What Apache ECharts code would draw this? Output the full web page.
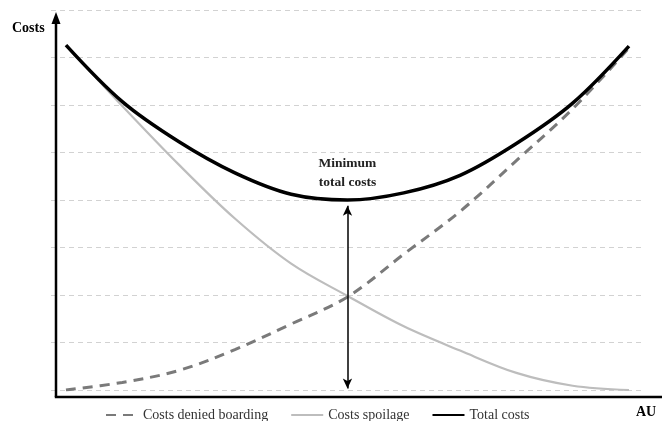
<!DOCTYPE html>
<html>
<head>
<meta charset="utf-8">
<script src="https://cdn.jsdelivr.net/npm/echarts@6/dist/echarts.min.js"></script>
<style>html,body{margin:0;padding:0;background:#fff}#c{width:662px;height:421px}</style>
</head>
<body>
<div id="c"></div>
<script>
const xValues = [0, 1, 2, 3, 4, 5, 6, 7, 8, 9, 10];
const deniedBoarding = [0.0, 0.16, 0.41, 0.85, 1.39, 1.96, 2.86, 3.76, 4.83, 5.92, 7.2];
const spoilage = [7.26, 5.98, 4.75, 3.61, 2.66, 1.98, 1.34, 0.83, 0.36, 0.09, 0.0];
const totalCosts = [7.26, 6.07, 5.23, 4.57, 4.12, 4.0, 4.15, 4.52, 5.19, 6.04, 7.24];
const minPoint = [5, 4.0];
const seriesNames = ['Costs denied boarding', 'Costs spoilage', 'Total costs'];
const yTicks = [0, 1, 2, 3, 4, 5, 6, 7, 8];

const pair = arr => xValues.map((x, i) => [x, arr[i]]);
const serif = '"Liberation Serif", "DejaVu Serif", serif';

const chart = echarts.init(document.getElementById('c'));
chart.setOption({
  animation: false,
  grid: { left: 51, right: 19, top: 10, bottom: 31 },
  xAxis: {
    type: 'value', min: -0.266, max: 10.249,
    axisLine: { show: false }, axisTick: { show: false }, axisLabel: { show: false },
    splitLine: { show: false }
  },
  yAxis: {
    type: 'value', min: yTicks[0], max: yTicks[yTicks.length - 1], interval: 1,
    axisLine: { show: false }, axisTick: { show: false }, axisLabel: { show: false },
    splitLine: { show: true, lineStyle: { color: '#d2d2d2', width: 1, type: [5, 4] } }
  },
  legend: {
    left: 100, top: 403, itemWidth: 32, itemHeight: 12, itemGap: 22,
    itemStyle: { opacity: 0 },
    textStyle: { fontFamily: serif, fontSize: 14, color: '#333' },
    data: seriesNames
  },
  graphic: [
    { type: 'line', shape: { x1: 56, y1: 397, x2: 56, y2: 22 }, style: { stroke: '#000', lineWidth: 2.5 }, z: 50 },
    { type: 'polygon', shape: { points: [[56, 12], [51.5, 24], [60.5, 24]] }, style: { fill: '#000' }, z: 50 },
    { type: 'line', shape: { x1: 54.8, y1: 397, x2: 662, y2: 397 }, style: { stroke: '#000', lineWidth: 2.5 }, z: 50 },
    { type: 'text', left: 12, top: 21, style: { text: 'Costs', font: 'bold 14px ' + serif, fill: '#000' } },
    { type: 'text', left: 636, top: 405, style: { text: 'AU', font: 'bold 14px ' + serif, fill: '#000' } }
  ],
  series: [
    {
      name: seriesNames[0], type: 'line', data: pair(deniedBoarding),
      smooth: 0.35, symbol: 'none',
      lineStyle: { color: '#7a7a7a', width: 3, type: [10, 7] },
      itemStyle: { color: '#7a7a7a' }, z: 3
    },
    {
      name: seriesNames[1], type: 'line', data: pair(spoilage),
      smooth: 0.35, symbol: 'none',
      lineStyle: { color: '#bdbdbd', width: 2.2 },
      itemStyle: { color: '#bdbdbd' }, z: 2
    },
    {
      name: seriesNames[2], type: 'line', data: pair(totalCosts),
      smooth: 0.35, symbol: 'none',
      lineStyle: { color: '#000', width: 3.5 },
      itemStyle: { color: '#000' }, z: 4,
      markLine: {
        silent: true, symbol: ['arrow', 'arrow'], symbolSize: [7, 10],
        label: { show: false },
        lineStyle: { color: '#000', width: 1.5, type: 'solid' },
        data: [[{ coord: [minPoint[0], minPoint[1] - 0.12] }, { coord: [minPoint[0], 0.03] }]]
      },
      markPoint: {
        symbol: 'circle', symbolSize: 0,
        label: {
          show: true, position: 'top', distance: 8,
          formatter: 'Minimum\ntotal costs',
          fontFamily: serif, fontWeight: 'bold', fontSize: 13.5, lineHeight: 19, color: '#222', align: 'center'
        },
        data: [{ coord: minPoint }]
      }
    }
  ]
});
</script>
</body>
</html>
